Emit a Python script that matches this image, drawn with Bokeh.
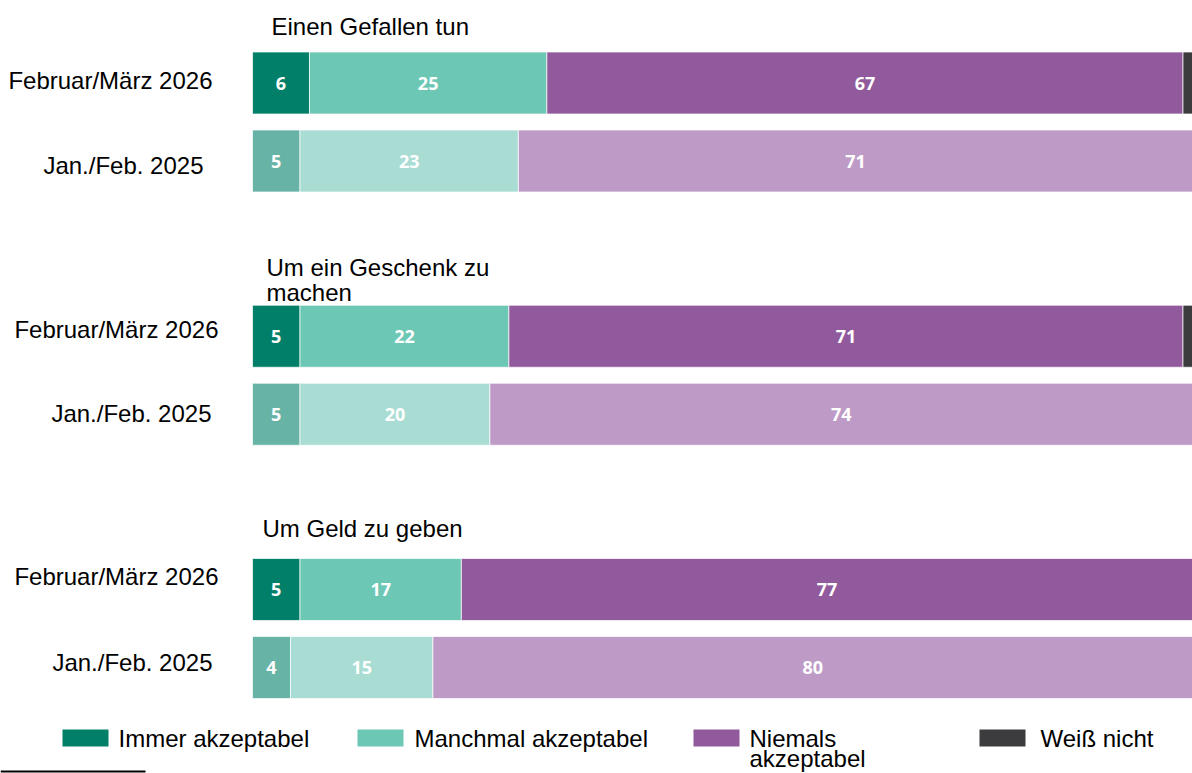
from bokeh.plotting import figure
from bokeh.models import Range1d
from bokeh.core.properties import value
from bokeh.embed import file_html
from bokeh.resources import INLINE

# ---------------- data ----------------
items = ["Einen Gefallen tun", "Um ein Geschenk zu\nmachen", "Um Geld zu geben"]
periods = ["Februar/März 2026", "Jan./Feb. 2025"]
categories = ["Immer akzeptabel", "Manchmal akzeptabel", "Niemals akzeptabel", "Weiß nicht"]

immer_2026 = [6, 5, 5]
manchmal_2026 = [25, 22, 17]
niemals_2026 = [67, 71, 77]
weiss_2026 = [2, 2, 1]

immer_2025 = [5, 5, 4]
manchmal_2025 = [23, 20, 15]
niemals_2025 = [71, 74, 80]
weiss_2025 = [1, 1, 1]

legend_labels = ["Immer akzeptabel", "Manchmal akzeptabel", "Niemals\nakzeptabel", "Weiß nicht"]

# ---------------- styles / layout ----------------
colors_2026 = ["#027f69", "#6dc7b5", "#915a9c", "#3c3b3e"]
colors_2025 = ["#67b3a6", "#a9ddd4", "#be9bc6", "#8c8b8d"]

W, H = 1192, 773
X0 = 252.0          # px where 0 % sits
PX = 9.495          # px per percent point
FONT = "Liberation Sans"
VFONT = "Open Sans"

def xd(px):
    return (px - X0) / PX

ROW0, GPITCH, RPITCH, BAR_H = 82.5, 253.25, 78.0, 62.0

# label layout (px): right edge and vertical centre per group/period
lab_right = [[212, 203], [218, 211], [218, 212]]
lab_y = [[80, 165], [329, 413], [576, 662]]
title_x = [271, 266, 262]
title_y = [[26], [267, 292], [528]]
leg_patch_x = [62, 357, 693, 979]
leg_text_x = [118, 414, 749, 1040]
leg_y = 738

p = figure(width=W, height=H,
           x_range=Range1d(xd(0), xd(W)), y_range=Range1d(H, 0),
           output_backend="svg", toolbar_location=None,
           x_axis_location=None, y_axis_location=None,
           min_border=0, outline_line_color=None)
p.grid.visible = False
p.background_fill_color = "white"
p.border_fill_color = "white"

series = {
    0: [immer_2026, manchmal_2026, niemals_2026, weiss_2026],
    1: [immer_2025, manchmal_2025, niemals_2025, weiss_2025],
}
pal = {0: colors_2026, 1: colors_2025}

bl, br, by, bc = [], [], [], []
tx, ty, tt = [], [], []
for g in range(len(items)):
    for r in range(len(periods)):
        yc = ROW0 + g * GPITCH + r * RPITCH
        left = 0
        for c in range(len(categories)):
            v = series[r][c][g]
            bl.append(left)
            br.append(left + v)
            by.append(yc)
            bc.append(pal[r][c])
            if c < 3:
                tx.append(left + v / 2)
                ty.append(yc)
                tt.append(str(v))
            left += v

p.hbar(y=by, left=bl, right=br, height=BAR_H, fill_color=bc,
       line_color="white", line_width=1, line_alpha=0.7)
p.text(x=tx, y=ty, text=tt, text_color="white", text_font=value(VFONT),
       text_font_style="bold", text_font_size="18px",
       text_align="center", text_baseline="middle")

# period labels
lx, ly, lt = [], [], []
for g in range(len(items)):
    for r in range(len(periods)):
        lx.append(xd(lab_right[g][r]))
        ly.append(lab_y[g][r])
        lt.append(periods[r])
p.text(x=lx, y=ly, text=lt, text_color="black", text_font=value(FONT),
       text_font_size="24px", text_align="right", text_baseline="middle")

# group titles
gx, gy, gt = [], [], []
for g, title in enumerate(items):
    for i, line in enumerate(title.split("\n")):
        gx.append(xd(title_x[g]))
        gy.append(title_y[g][i])
        gt.append(line)
p.text(x=gx, y=gy, text=gt, text_color="black", text_font=value(FONT),
       text_font_size="24px", text_align="left", text_baseline="middle")

# legend
p.quad(left=[xd(x) for x in leg_patch_x], right=[xd(x + 46) for x in leg_patch_x],
       top=[leg_y - 9] * 4, bottom=[leg_y + 8] * 4,
       fill_color=colors_2026, line_color=None)
lgx, lgy, lgt = [], [], []
for i, lab in enumerate(legend_labels):
    for j, line in enumerate(lab.split("\n")):
        lgx.append(xd(leg_text_x[i]))
        lgy.append(leg_y + j * 20)
        lgt.append(line)
p.text(x=lgx, y=lgy, text=lgt, text_color="black", text_font=value(FONT),
       text_font_size="24px", text_align="left", text_baseline="middle")

# footnote rule
p.segment(x0=[xd(0)], x1=[xd(145)], y0=[771], y1=[771], line_color="black", line_width=2)

open("out.html", "w").write(file_html(p, INLINE))
